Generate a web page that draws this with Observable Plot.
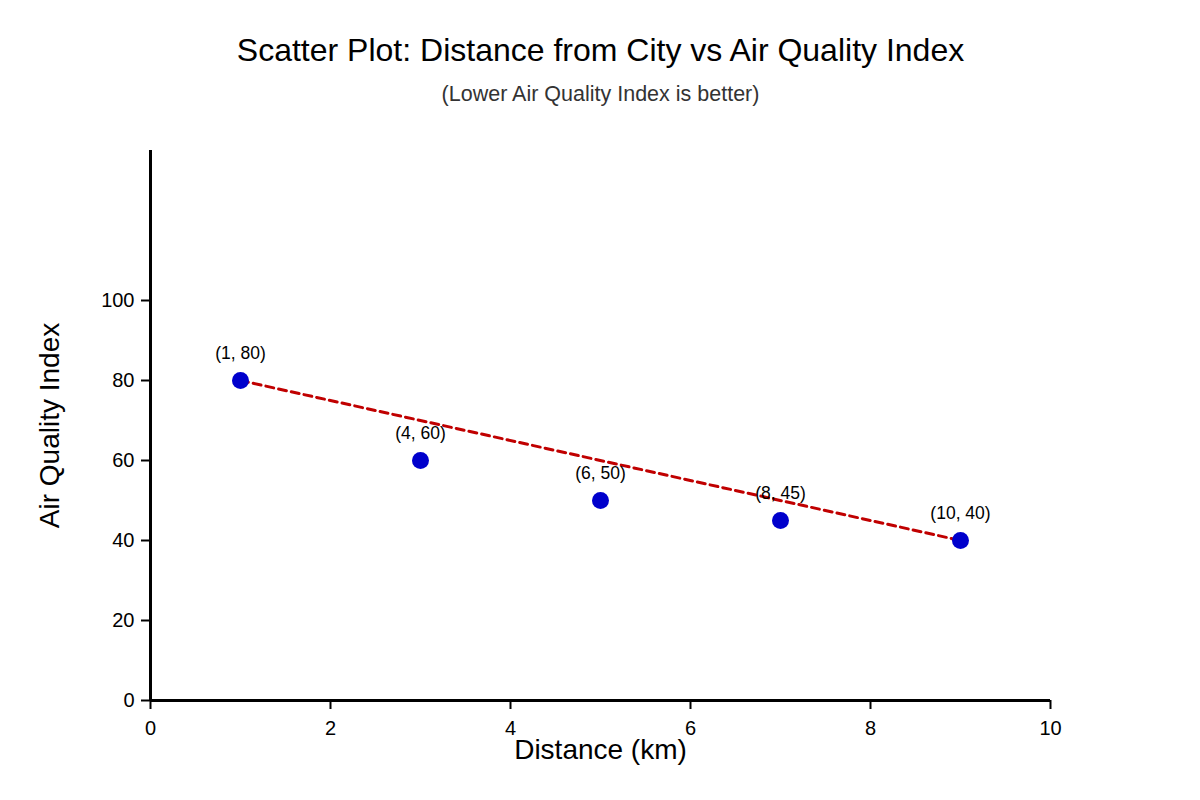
<!DOCTYPE html>
<html>
<head>
<meta charset="utf-8">
<script src="https://cdn.jsdelivr.net/npm/d3@7"></script>
<script src="https://cdn.jsdelivr.net/npm/@observablehq/plot@0.6"></script>
<style>
  body { margin: 0; background: #fff; font-family: "Liberation Sans", Arial, sans-serif; }
  #chart svg { display: block; }
  #chart svg g[aria-label$="tick label"], #chart svg g[aria-label$="tick label"] text { font-size: 20px !important; }
</style>
</head>
<body>
<div id="chart"></div>
<script>
const titleText = "Scatter Plot: Distance from City vs Air Quality Index";
const subtitleText = "(Lower Air Quality Index is better)";
const xLabel = "Distance (km)";
const yLabel = "Air Quality Index";
const xPositions = [1, 3, 5, 7, 9];
const aqiValues = [80, 60, 50, 45, 40];
const pointLabels = ["(1, 80)", "(4, 60)", "(6, 50)", "(8, 45)", "(10, 40)"];
const xTicks = [0, 2, 4, 6, 8, 10];
const yTicks = [0, 20, 40, 60, 80, 100];

const points = xPositions.map((x, i) => ({x, y: aqiValues[i], label: pointLabels[i]}));
const trend = [points[0], points[points.length - 1]];

const plot = Plot.plot({
  width: 1200,
  height: 800,
  marginLeft: 150,
  marginRight: 150,
  marginTop: 150,
  marginBottom: 100,
  style: {fontFamily: '"Liberation Sans", Arial, sans-serif', background: "#fff", overflow: "visible"},
  x: {domain: [0, 10]},
  y: {domain: [0, 137.5]},
  marks: [
    Plot.axisX({ticks: xTicks, tickSize: 9, tickPadding: 11, strokeWidth: 2, fontSize: 20, fill: "#000", label: null}),
    Plot.axisY({ticks: yTicks, tickSize: 9, tickPadding: 7, strokeWidth: 2, fontSize: 20, fill: "#000", label: null}),
    Plot.ruleX([0], {y1: 0, y2: 137.5, stroke: "#000", strokeWidth: 3}),
    Plot.ruleY([0], {x1: 0, x2: 10, stroke: "#000", strokeWidth: 3}),
    Plot.line(trend, {x: "x", y: "y", stroke: "#c00000", strokeWidth: 3, strokeDasharray: "8,5"}),
    Plot.dot(points, {x: "x", y: "y", r: 8.5, fill: "#0000cc", stroke: "none"}),
    Plot.text(points, {x: "x", y: "y", text: "label", dy: -27, fontSize: 17.5, fill: "#000"}),
    Plot.text([titleText], {frameAnchor: "top", dy: -112, fontSize: 32, fill: "#000", textAnchor: "middle"}),
    Plot.text([subtitleText], {frameAnchor: "top", dy: -65, fontSize: 21.5, fill: "#333", textAnchor: "middle"}),
    Plot.text([xLabel], {frameAnchor: "bottom", dy: 58, fontSize: 28, fill: "#000", textAnchor: "middle"}),
    Plot.text([yLabel], {frameAnchor: "left", dx: -100, rotate: -90, fontSize: 28, fill: "#000", textAnchor: "middle"})
  ]
});
document.getElementById("chart").appendChild(plot);
</script>
</body>
</html>
